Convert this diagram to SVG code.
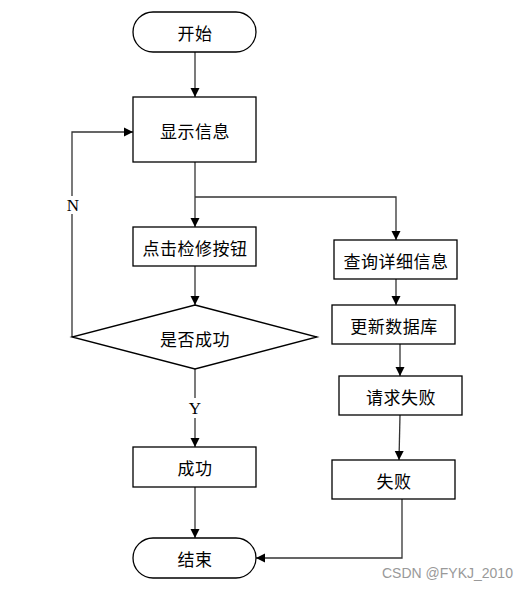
<svg xmlns="http://www.w3.org/2000/svg" width="526" height="590" viewBox="0 0 526 590">
<defs>
<marker id="arr" viewBox="0 0 10 10" refX="10" refY="5" markerWidth="9" markerHeight="10" markerUnits="userSpaceOnUse" orient="auto">
<path d="M0,0 L10,5 L0,10 Z" fill="#000"/>
</marker>
</defs>
<style>
.box{fill:#fff;stroke:#000;stroke-width:1.3}
.t{font-family:"Noto Sans CJK SC","Noto Sans",sans-serif;font-size:17px;fill:#000;text-anchor:middle;dominant-baseline:central;letter-spacing:0.5px}
.c{fill:none;stroke:#333;stroke-width:1.3}
.lbl{font-family:"Liberation Serif",serif;font-size:17px;fill:#000;text-anchor:middle;dominant-baseline:central}
.wm{font-family:"Liberation Sans",sans-serif;font-size:14px;fill:#999}
</style>
<rect width="526" height="590" fill="#fff"/>
<g id="connectors">
<line class="c" x1="195" y1="52" x2="195" y2="97" marker-end="url(#arr)"/>
<polyline class="c" points="72,337 72,132 133,132" marker-end="url(#arr)"/>
<line class="c" x1="195" y1="162" x2="195" y2="227" marker-end="url(#arr)"/>
<polyline class="c" points="195,197 396,197 396,240" marker-end="url(#arr)"/>
<line class="c" x1="195" y1="266" x2="195" y2="305" marker-end="url(#arr)"/>
<line class="c" x1="195" y1="369" x2="195" y2="398"/>
<line class="c" x1="195" y1="418" x2="195" y2="447" marker-end="url(#arr)"/>
<line class="c" x1="195" y1="487" x2="195" y2="538" marker-end="url(#arr)"/>
<line class="c" x1="396" y1="279" x2="396" y2="305" marker-end="url(#arr)"/>
<line class="c" x1="400" y1="344" x2="400" y2="376" marker-end="url(#arr)"/>
<line class="c" x1="400" y1="415" x2="399" y2="460" marker-end="url(#arr)"/>
<polyline class="c" points="402,499 402,558 256,558" marker-end="url(#arr)"/>
<rect x="64" y="196" width="18" height="18" fill="#fff"/>
<text class="lbl" x="73" y="205">N</text>
<text class="lbl" x="195" y="408">Y</text>
</g>
<g id="start"><rect class="box" x="133" y="12" width="123" height="40" rx="20"/><text class="t" x="195" y="32">开始</text></g>
<g id="show"><rect class="box" x="133" y="97" width="123" height="65"/><text class="t" x="195" y="130">显示信息</text></g>
<g id="click"><rect class="box" x="133" y="227" width="123" height="39"/><text class="t" x="195" y="247">点击检修按钮</text></g>
<g id="decision"><polygon class="box" points="195,305 317,337 195,369 72,337"/><text class="t" x="195" y="338">是否成功</text></g>
<g id="success"><rect class="box" x="133" y="447" width="123" height="40"/><text class="t" x="195" y="467">成功</text></g>
<g id="end"><rect class="box" x="133" y="538" width="123" height="40" rx="20"/><text class="t" x="195" y="558">结束</text></g>
<g id="query"><rect class="box" x="334" y="240" width="123" height="39"/><text class="t" x="396" y="260">查询详细信息</text></g>
<g id="update"><rect class="box" x="332" y="305" width="123" height="39"/><text class="t" x="394" y="325">更新数据库</text></g>
<g id="reqfail"><rect class="box" x="339" y="376" width="123" height="39"/><text class="t" x="401" y="396">请求失败</text></g>
<g id="fail"><rect class="box" x="332" y="460" width="123" height="39"/><text class="t" x="394" y="480">失败</text></g>
<text class="wm" x="382" y="578">CSDN @FYKJ_2010</text>
</svg>
